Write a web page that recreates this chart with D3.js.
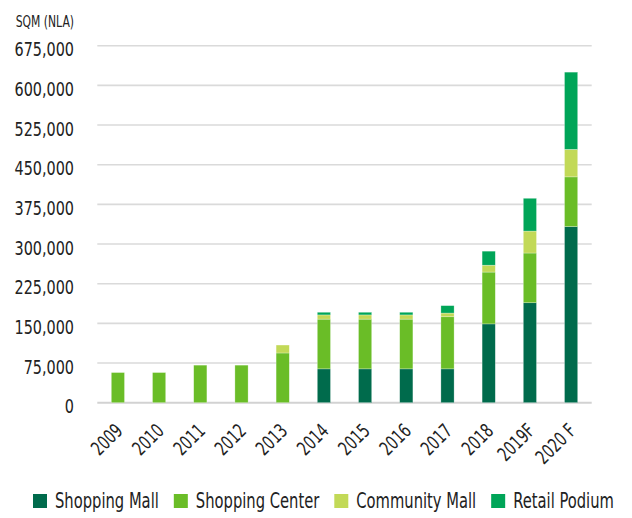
<!DOCTYPE html>
<html>
<head>
<meta charset="utf-8">
<title></title>
<style type="text/css">
	body{
		margin: 0;
		background-color: #ffffff;
	}
	svg text{
		font-family: "Liberation Sans Narrow", "DejaVu Sans Condensed", sans-serif;
		fill: #222222;
	}
</style>
</head>
<body>
<svg id="container" width="632" height="518"></svg>

<script src="https://cdn.jsdelivr.net/npm/d3@7"></script>
<script type="text/javascript">
	// data (SQM NLA)
	let years = ["2009", "2010", "2011", "2012", "2013", "2014", "2015", "2016", "2017", "2018", "2019F", "2020 F"]
	let shoppingMall = [0, 0, 0, 0, 0, 64000, 64000, 64000, 64000, 149000, 189000, 333000]
	let shoppingCenter = [57000, 57000, 71000, 71000, 94000, 94000, 94000, 94000, 98500, 98000, 94000, 94000]
	let communityMall = [0, 0, 0, 0, 15000, 8000, 8000, 8000, 7000, 13000, 41500, 52000]
	let retailPodium = [0, 0, 0, 0, 0, 5000, 5000, 5000, 14000, 26500, 62000, 146000]
	let yTicks = [0, 75000, 150000, 225000, 300000, 375000, 450000, 525000, 600000, 675000]

	let seriesNames = ["Shopping Mall", "Shopping Center", "Community Mall", "Retail Podium"]
	let colors = ["#006b4c", "#6abd27", "#c2d957", "#00a558"]

	let svg = d3.select("#container")

	// the original font is a narrow one, squeeze the fallback to match
	function squeeze(sel, k) {
		sel.each(function() {
			let len = this.getComputedTextLength()
			d3.select(this).attr("textLength", len * k).attr("lengthAdjust", "spacingAndGlyphs")
		})
	}

	let rows = years.map((y, i) => ({
		year: y,
		"Shopping Mall": shoppingMall[i],
		"Shopping Center": shoppingCenter[i],
		"Community Mall": communityMall[i],
		"Retail Podium": retailPodium[i]
	}))
	let stacked = d3.stack().keys(seriesNames)(rows)

	let x = d3.scaleBand().domain(years).range([97.3, 591.7])
		.paddingInner(0.68).paddingOuter(0.34)
	let y = d3.scaleLinear().domain([0, 675000]).range([402.7, 45.7])

	// gridlines
	svg.append("g").selectAll("line")
		.data(yTicks)
		.enter().append("line")
		.attr("x1", 97.3).attr("x2", 591.7)
		.attr("y1", d => y(d)).attr("y2", d => y(d))
		.style("stroke", d => d == 0 ? "#d2d2d2" : "#dadada")
		.style("stroke-width", d => d == 0 ? 2 : 1.6)

	// y axis labels
	let yAxis = d3.axisLeft(y).tickValues(yTicks).tickSize(0).tickPadding(0)
		.tickFormat(d3.format(","))
	let yg = svg.append("g").attr("transform", "translate(74,0)").call(yAxis)
	yg.select(".domain").remove()
	yg.selectAll("text")
		.attr("dy", 10)
		.style("font-size", "20px")
		.style("font-family", null)
		.call(squeeze, 0.8)

	svg.append("text").text("SQM (NLA)")
		.attr("x", 74).attr("y", 27)
		.attr("text-anchor", "end")
		.style("font-size", "15px")
		.call(squeeze, 0.8)

	// bars
	svg.append("g").selectAll("g")
		.data(stacked)
		.enter().append("g")
		.style("fill", (d, i) => colors[i])
		.selectAll("rect")
		.data(d => d)
		.enter().append("rect")
		.attr("x", d => x(d.data.year))
		.attr("width", x.bandwidth())
		.attr("y", d => y(d[1]))
		.attr("height", d => y(d[0]) - y(d[1]))
		.style("stroke", "rgba(255,255,255,0.45)")
		.style("stroke-width", 0.6)

	// x axis labels
	let xAxis = d3.axisBottom(x).tickSize(0).tickPadding(0)
	let xg = svg.append("g").attr("transform", "translate(0,403)").call(xAxis)
	xg.select(".domain").remove()
	xg.selectAll("text")
		.attr("text-anchor", "end")
		.attr("dy", 0)
		.attr("transform", "translate(6,29) rotate(-45)")
		.style("font-size", "19.5px")
		.style("font-family", null)
		.call(squeeze, 0.78)

	// legend
	let legend = svg.append("g").attr("transform", "translate(33,494)")
	let lx = 0
	let k = 0.78
	seriesNames.forEach((name, i) => {
		let item = legend.append("g").attr("transform", "translate(" + lx + ",0)")
		item.append("rect").attr("width", 14).attr("height", 14).style("fill", colors[i])
		let t = item.append("g").attr("transform", "translate(22,14) scale(" + k + ",1)")
			.append("text").text(name)
			.style("font-size", "21px")
		let w = t.node().getComputedTextLength() * k
		lx += 22 + w + 15
	})
</script>
</body>
</html>
